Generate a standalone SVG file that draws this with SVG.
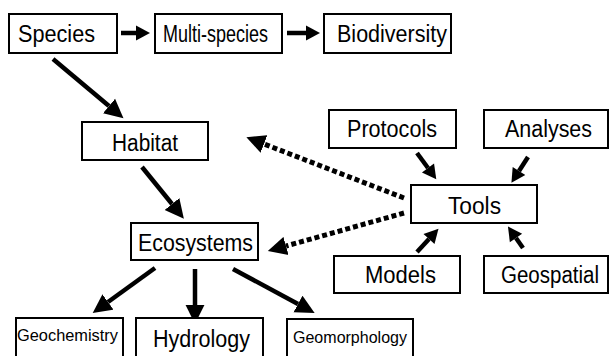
<svg xmlns="http://www.w3.org/2000/svg" width="610" height="356" viewBox="0 0 610 356">
<style>
.box{fill:#fff;stroke:#000;stroke-width:2}
.t{font-family:"Liberation Sans",Arial,sans-serif;font-size:23px;fill:#000}
.s{font-size:17px}
.a{stroke:#000;stroke-width:4.5;fill:none}
.d{stroke:#000;stroke-width:5;fill:none;stroke-dasharray:5 3}
</style>
<defs>
<marker id="h" markerUnits="userSpaceOnUse" markerWidth="20" markerHeight="20" viewBox="0 -9 18 18" refX="0" refY="0" orient="auto">
<path d="M0,-8.5 L17,0 L0,8.5 Z" fill="#000"/>
</marker>
<marker id="hs" markerUnits="userSpaceOnUse" markerWidth="16" markerHeight="16" viewBox="0 -8 15 16" refX="0" refY="0" orient="auto">
<path d="M0,-7.5 L14,0 L0,7.5 Z" fill="#000"/>
</marker>
</defs>
<rect width="610" height="356" fill="#fff"/>
<g id="connectors">
<line class="a" x1="121" y1="33" x2="136" y2="33" marker-end="url(#hs)"/>
<line class="a" x1="287" y1="33" x2="306" y2="33" marker-end="url(#hs)"/>
<line class="a" x1="53" y1="59" x2="109" y2="106" marker-end="url(#h)"/>
<line class="a" x1="142" y1="167" x2="172" y2="204" marker-end="url(#h)"/>
<line class="a" x1="155" y1="268" x2="108" y2="302" marker-end="url(#h)"/>
<line class="a" x1="195" y1="269" x2="195" y2="305" marker-end="url(#h)"/>
<line class="a" x1="233" y1="269" x2="298" y2="304" marker-end="url(#h)"/>
<line class="a" x1="417" y1="153" x2="428" y2="168" marker-end="url(#hs)"/>
<line class="a" x1="528" y1="157" x2="519" y2="171" marker-end="url(#hs)"/>
<line class="a" x1="417" y1="252" x2="429" y2="239" marker-end="url(#hs)"/>
<line class="a" x1="523" y1="248" x2="516" y2="238" marker-end="url(#hs)"/>
<line class="d" x1="404" y1="198" x2="264" y2="144" marker-end="url(#h)"/>
<line class="d" x1="404" y1="213" x2="286" y2="246" marker-end="url(#h)"/>
</g>
<g id="species"><rect class="box" x="9" y="14" width="108" height="39"/><text class="t" x="18" y="42" textLength="77" lengthAdjust="spacingAndGlyphs">Species</text></g>
<g id="multispecies"><rect class="box" x="155" y="14" width="127" height="39"/><text class="t" x="163" y="42" font-size="21" textLength="105" lengthAdjust="spacingAndGlyphs">Multi-species</text></g>
<g id="biodiversity"><rect class="box" x="324" y="14" width="127" height="39"/><text class="t" x="337" y="42" textLength="110" lengthAdjust="spacingAndGlyphs">Biodiversity</text></g>
<g id="habitat"><rect class="box" x="82" y="122" width="126" height="38"/><text class="t" x="112" y="151" textLength="66" lengthAdjust="spacingAndGlyphs">Habitat</text></g>
<g id="ecosystems"><rect class="box" x="131" y="223" width="127" height="37"/><text class="t" x="138" y="251" textLength="115" lengthAdjust="spacingAndGlyphs">Ecosystems</text></g>
<g id="protocols"><rect class="box" x="329" y="110" width="127" height="38"/><text class="t" x="347" y="137" textLength="90" lengthAdjust="spacingAndGlyphs">Protocols</text></g>
<g id="analyses"><rect class="box" x="484" y="110" width="124" height="38"/><text class="t" x="505" y="137" textLength="87" lengthAdjust="spacingAndGlyphs">Analyses</text></g>
<g id="tools"><rect class="box" x="411" y="185" width="126" height="38"/><text class="t" x="448" y="214" textLength="53" lengthAdjust="spacingAndGlyphs">Tools</text></g>
<g id="models"><rect class="box" x="334" y="256" width="126" height="37"/><text class="t" x="365" y="283" textLength="71" lengthAdjust="spacingAndGlyphs">Models</text></g>
<g id="geospatial"><rect class="box" x="484" y="256" width="124" height="37"/><text class="t" x="501" y="283" textLength="98" lengthAdjust="spacingAndGlyphs">Geospatial</text></g>
<g id="geochemistry"><rect class="box" x="16" y="318" width="107" height="42"/><text class="t s" x="17" y="341" textLength="101" lengthAdjust="spacingAndGlyphs">Geochemistry</text></g>
<g id="hydrology"><rect class="box" x="136" y="318" width="127" height="42"/><text class="t" x="153" y="347" font-size="24" textLength="97" lengthAdjust="spacingAndGlyphs">Hydrology</text></g>
<g id="geomorphology"><rect class="box" x="287" y="319" width="126" height="42"/><text class="t s" x="293" y="343" textLength="114" lengthAdjust="spacingAndGlyphs">Geomorphology</text></g>
</svg>
